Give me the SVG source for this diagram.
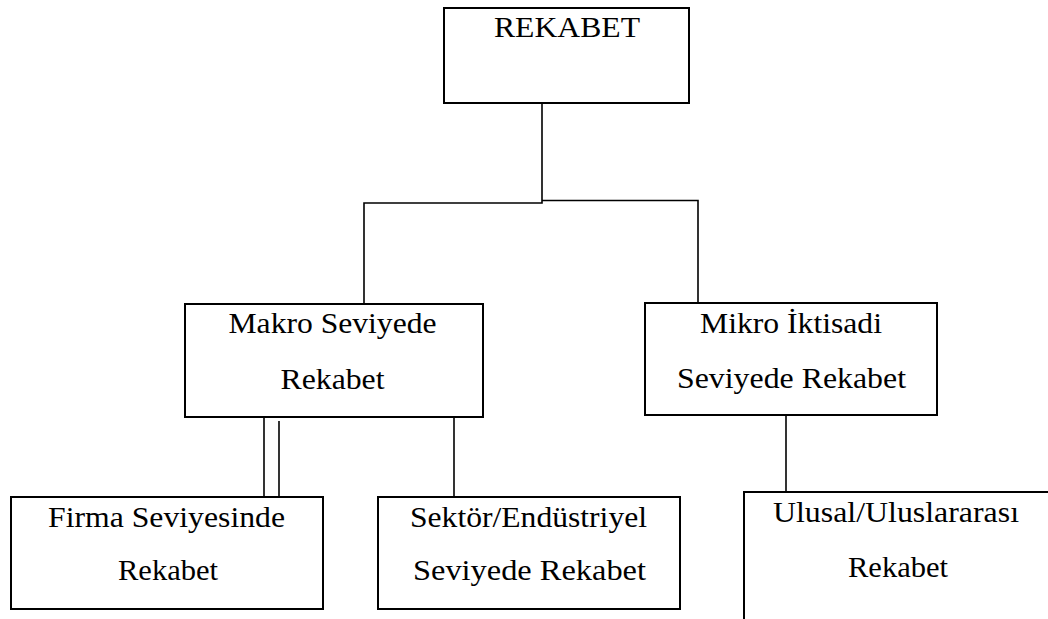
<svg xmlns="http://www.w3.org/2000/svg" width="1048" height="619" viewBox="0 0 1048 619">
<style>
.box{fill:#fff;stroke:#000;stroke-width:2}
.ln{fill:none;stroke:#000;stroke-width:1.6}
.t{font-family:'Liberation Serif','Times New Roman',Times,serif;font-size:29px;fill:#000;text-anchor:middle}
</style>
<rect width="1048" height="619" fill="#fff"/>
<g id="connectors">
<polyline class="ln" points="542,103 542,203 364,203 364,303"/>
<polyline class="ln" points="542,200.5 698,200.5 698,303"/>
<line class="ln" x1="264" y1="417" x2="264" y2="497"/>
<line class="ln" x1="279" y1="421" x2="279" y2="500"/>
<line class="ln" x1="454" y1="417" x2="454" y2="497"/>
<line class="ln" x1="786" y1="416" x2="786" y2="492"/>
</g>
<g id="rekabet">
<rect class="box" x="444" y="8" width="245" height="95"/>
<text class="t" x="567" y="37" font-size="30" textLength="146" lengthAdjust="spacingAndGlyphs">REKABET</text>
</g>
<g id="makro">
<rect class="box" x="185" y="304" width="298" height="113"/>
<text class="t" x="332.5" y="333" textLength="208" lengthAdjust="spacingAndGlyphs">Makro Seviyede</text>
<text class="t" x="332.5" y="389" textLength="104" lengthAdjust="spacingAndGlyphs">Rekabet</text>
</g>
<g id="mikro">
<rect class="box" x="645" y="303" width="292" height="112"/>
<text class="t" x="791" y="333" textLength="182" lengthAdjust="spacingAndGlyphs">Mikro İktisadi</text>
<text class="t" x="791.5" y="388" textLength="229" lengthAdjust="spacingAndGlyphs">Seviyede Rekabet</text>
</g>
<g id="firma">
<rect class="box" x="11" y="497" width="312" height="112"/>
<text class="t" x="166.5" y="527" textLength="237" lengthAdjust="spacingAndGlyphs">Firma Seviyesinde</text>
<text class="t" x="168" y="580" textLength="100" lengthAdjust="spacingAndGlyphs">Rekabet</text>
</g>
<g id="sektor">
<rect class="box" x="378" y="497" width="302" height="112"/>
<text class="t" x="528.5" y="527" textLength="237" lengthAdjust="spacingAndGlyphs">Sektör/Endüstriyel</text>
<text class="t" x="529.5" y="580" textLength="233" lengthAdjust="spacingAndGlyphs">Seviyede Rekabet</text>
</g>
<g id="ulusal">
<polyline class="box" style="fill:none" points="744,620 744,492 1050,492"/>
<text class="t" x="896" y="522" textLength="246" lengthAdjust="spacingAndGlyphs">Ulusal/Uluslararası</text>
<text class="t" x="898" y="577" textLength="100" lengthAdjust="spacingAndGlyphs">Rekabet</text>
</g>
</svg>
